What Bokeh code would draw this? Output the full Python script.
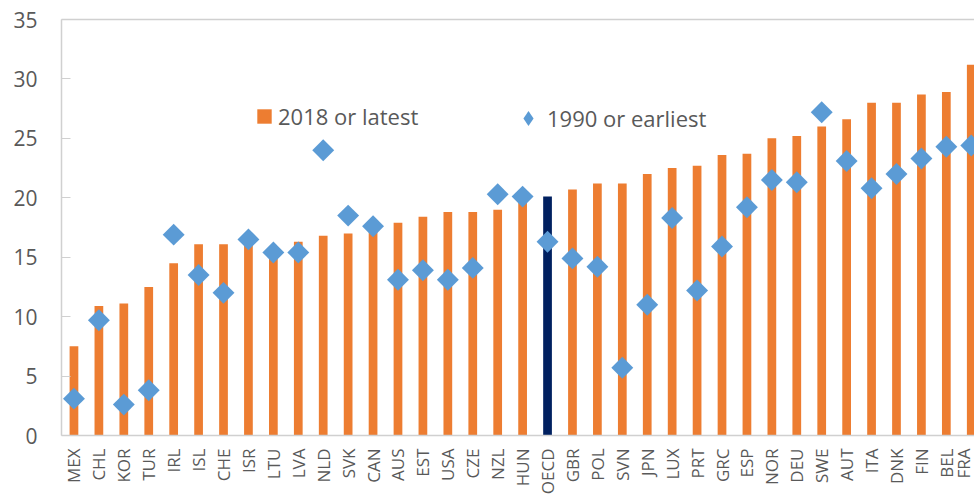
from bokeh.plotting import figure
from bokeh.models import (ColumnDataSource, Range1d, FixedTicker, LinearAxis,
                          Legend, LegendItem)
from bokeh.embed import file_html
from bokeh.resources import INLINE

categories = ["MEX", "CHL", "KOR", "TUR", "IRL", "ISL", "CHE", "ISR", "LTU", "LVA",
              "NLD", "SVK", "CAN", "AUS", "EST", "USA", "CZE", "NZL", "HUN", "OECD",
              "GBR", "POL", "SVN", "JPN", "LUX", "PRT", "GRC", "ESP", "NOR", "DEU",
              "SWE", "AUT", "ITA", "DNK", "FIN", "BEL", "FRA"]
values_2018 = [7.5, 10.9, 11.1, 12.5, 14.5, 16.1, 16.1, 16.3, 15.5, 16.3,
               16.8, 17.0, 17.7, 17.9, 18.4, 18.8, 18.8, 19.0, 19.9, 20.1,
               20.7, 21.2, 21.2, 22.0, 22.5, 22.7, 23.6, 23.7, 25.0, 25.2,
               26.0, 26.6, 28.0, 28.0, 28.7, 28.9, 31.2]
values_1990 = [3.1, 9.7, 2.6, 3.8, 16.9, 13.5, 12.0, 16.5, 15.4, 15.4,
               24.0, 18.5, 17.6, 13.1, 13.9, 13.1, 14.1, 20.3, 20.1, 16.3,
               14.9, 14.2, 5.7, 11.0, 18.3, 12.2, 15.9, 19.2, 21.5, 21.3,
               27.2, 23.1, 20.8, 22.0, 23.3, 24.3, 24.4]
y_ticks = [0, 5, 10, 15, 20, 25, 30, 35]

ORANGE = "#ED7D31"
BLUE = "#5B9BD5"
NAVY = "#002060"
GRAY_TEXT = "#595959"
AXIS_GRAY = "#D0D0D0"
FONT = "Open Sans"

xs = list(range(len(categories)))
colors = [NAVY if c == "OECD" else ORANGE for c in categories]
src = ColumnDataSource(dict(x=xs, cat=categories, v18=values_2018, v90=values_1990, color=colors))

p = figure(width=974, height=497, output_backend="svg", toolbar_location=None,
           x_range=Range1d(-0.5, 36.13), y_range=Range1d(0, 35),
           min_border_left=61, min_border_right=0, min_border_top=19, min_border_bottom=59)

p.xgrid.visible = False
p.ygrid.visible = False
p.outline_line_color = None
p.background_fill_color = "white"

bars = p.vbar(x="x", top="v18", width=0.35, bottom=0, source=src,
              fill_color="color", line_color=None)
dia = p.scatter(x="x", y="v90", source=src, marker="square", angle=0.785398,
                size=15.5, fill_color=BLUE, line_color=None)
# legend-only proxy renderer for the diamond symbol (zero-size marks, not visible in the chart)
dia_legend = p.scatter(x="x", y="v90", source=src, marker="diamond", size=0,
                       fill_color=BLUE, line_color=None)

# x axis
xa = p.xaxis[0]
xa.ticker = FixedTicker(ticks=xs)
xa.major_label_overrides = {i: c for i, c in enumerate(categories)}
xa.major_label_orientation = 1.5707963
xa.major_tick_line_color = None
xa.minor_tick_line_color = None
xa.axis_line_color = AXIS_GRAY
xa.axis_line_width = 1.5
xa.major_label_text_font = FONT
xa.major_label_text_font_size = "17px"
xa.major_label_text_color = GRAY_TEXT
xa.major_label_standoff = 7

# y axis
ya = p.yaxis[0]
ya.ticker = FixedTicker(ticks=y_ticks)
ya.minor_tick_line_color = None
ya.major_tick_in = 9
ya.major_tick_out = 0
ya.major_tick_line_color = AXIS_GRAY
ya.axis_line_color = AXIS_GRAY
ya.axis_line_width = 1.5
ya.major_label_text_font = FONT
ya.major_label_text_font_size = "21px"
ya.major_label_text_color = GRAY_TEXT
ya.major_label_standoff = 24

# top border line
top = LinearAxis(ticker=FixedTicker(ticks=[]), axis_line_color=AXIS_GRAY, axis_line_width=1.5,
                 major_tick_line_color=None, minor_tick_line_color=None,
                 major_label_text_font_size="0px")
p.add_layout(top, "above")

leg1 = Legend(items=[LegendItem(label="2018 or latest", renderers=[bars], index=0)],
              location=(194, 304), orientation="horizontal",
              glyph_width=18, glyph_height=18, label_standoff=5,
              label_text_font=FONT, label_text_font_size="22px", label_text_color=GRAY_TEXT,
              border_line_color=None, background_fill_alpha=0, padding=0, margin=0)
leg2 = Legend(items=[LegendItem(label="1990 or earliest", renderers=[dia_legend], index=0)],
              location=(448, 298), orientation="horizontal",
              glyph_width=38, glyph_height=38, label_standoff=0,
              label_text_font=FONT, label_text_font_size="22px", label_text_color=GRAY_TEXT,
              border_line_color=None, background_fill_alpha=0, padding=0, margin=0)
p.add_layout(leg1, "center")
p.add_layout(leg2, "center")

open("out.html", "w").write(file_html(p, INLINE))
